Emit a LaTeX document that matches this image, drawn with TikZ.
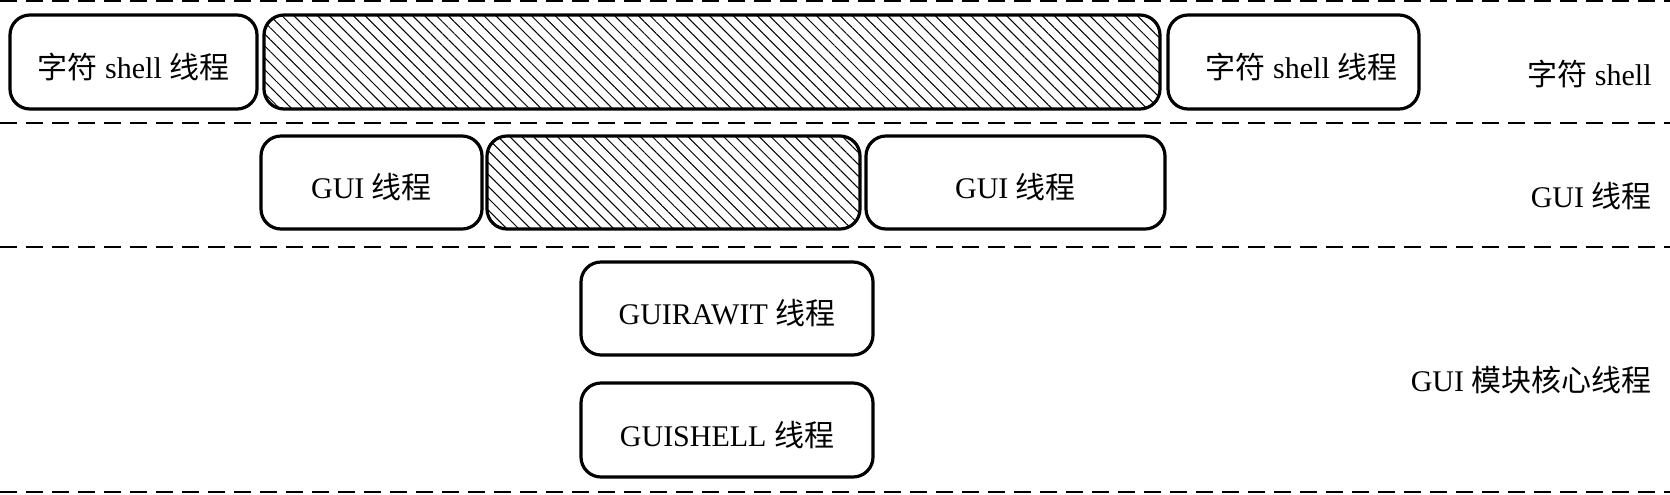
\documentclass[tikz,border=0pt]{standalone}
\usepackage{fontspec}
\setmainfont{Liberation Serif}
\newfontfamily\cjk{Noto Sans CJK SC}
\usetikzlibrary{patterns.meta}
\tikzset{
  thr/.style={draw, line width=1.6pt, rounded corners=10pt, inner sep=0pt, text height=19pt, text depth=3pt, font=\fontsize{15pt}{18pt}\selectfont},
  hatchbox/.style={thr, pattern={Lines[angle=-45,distance=4.2pt,line width=0.5pt]}},
  sep/.style={dash pattern=on 8.5pt off 4.5pt, line width=1pt},
  lab/.style={anchor=east, inner sep=0pt, font=\fontsize{15pt}{18pt}\selectfont}
}
\begin{document}
\begin{tikzpicture}[x=0.5pt, y=-0.5pt]
\useasboundingbox (0,0) rectangle (1670,494);
% separators
\draw[sep] (0,1) -- (1670,1);
\draw[sep] (0,123) -- (1670,123);
\draw[sep] (0,247) -- (1670,247);
\draw[sep] (0,492) -- (1670,492);
% row 1
\node[thr, minimum width=123.5pt, minimum height=47pt] (a) at (133.5,62) {{\cjk 字符} shell {\cjk 线程}};
\node[hatchbox, minimum width=448pt, minimum height=47pt] (h1) at (712,62) {};
\node[thr, minimum width=125.5pt, minimum height=47pt] (c) at (1293.5,62) {\hspace{8pt}{\cjk 字符} shell {\cjk 线程}};
\node[lab] (l1) at (1652,74) {{\cjk 字符} shell};
% row 2
\node[thr, minimum width=110.5pt, minimum height=46.5pt] (g1) at (371.5,182.5) {GUI {\cjk 线程}};
\node[hatchbox, minimum width=186.5pt, minimum height=46.5pt] (h2) at (673.5,182.5) {};
\node[thr, minimum width=149.5pt, minimum height=46.5pt] (g2) at (1015.5,182.5) {GUI {\cjk 线程}};
\node[lab] (l2) at (1652,196) {GUI {\cjk 线程}};
% row 3
\node[thr, minimum width=146pt, minimum height=46.5pt] (r) at (727,308.5) {GUIRAWIT {\cjk 线程}};
\node[thr, minimum width=146pt, minimum height=47pt] (s) at (727,430) {GUISHELL {\cjk 线程}};
\node[lab] (l3) at (1652,380) {GUI {\cjk 模块核心线程}};
\end{tikzpicture}
\end{document}
